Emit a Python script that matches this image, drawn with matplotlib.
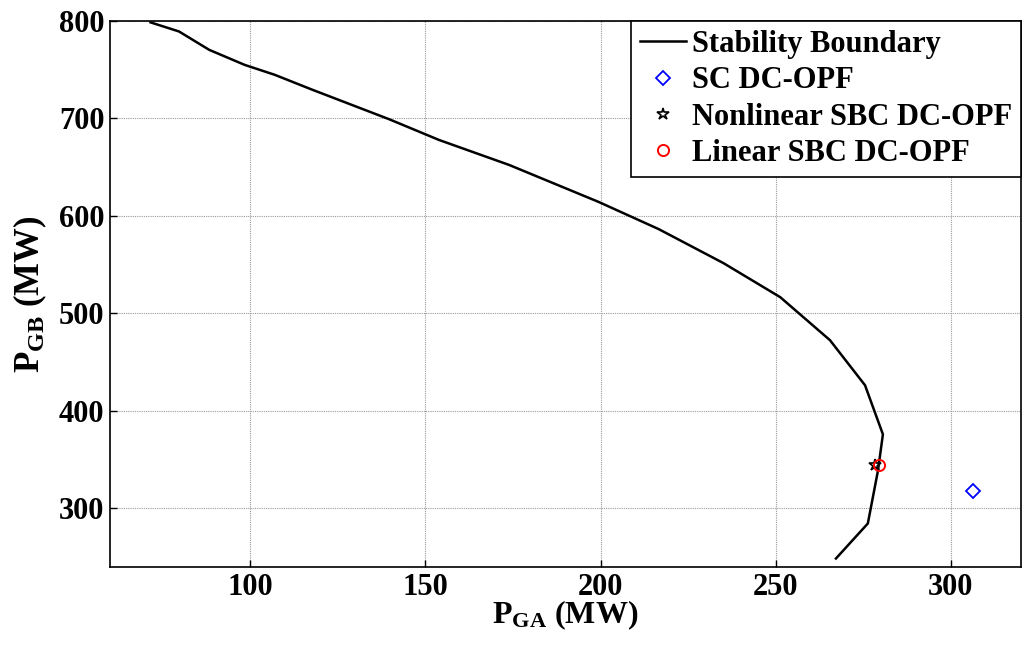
import matplotlib
matplotlib.use('Agg')
from matplotlib import pyplot as plt

plt.rcParams['font.family'] = ['Liberation Serif', 'DejaVu Serif']
plt.rcParams['font.weight'] = 'bold'
plt.rcParams['mathtext.fontset'] = 'custom'
plt.rcParams['mathtext.rm'] = 'Liberation Serif:bold'
plt.rcParams['mathtext.bf'] = 'Liberation Serif:bold'
plt.rcParams['mathtext.it'] = 'Liberation Serif:bold'

# stability boundary
boundary_pga = [71.6, 79.7, 88.3, 98.4, 107.0, 117.8, 139.7, 153.9, 173.9,
                199.5, 216.6, 235.1, 251.3, 265.5, 275.5, 280.6, 279.2,
                276.3, 267.2]
boundary_pgb = [798.3, 789.0, 770.2, 754.8, 744.6, 729.2, 699.0, 677.8, 652.2,
                614.2, 586.4, 551.5, 516.6, 472.5, 426.3, 376.0, 339.0,
                284.6, 248.7]

sc_pga, sc_pgb = [306.2], [317.8]
nl_pga, nl_pgb = [278.3], [345.0]
lin_pga, lin_pgb = [279.6], [345.0]

xticks = [100, 150, 200, 250, 300]
yticks = [300, 400, 500, 600, 700, 800]

fig = plt.figure(figsize=(10.23, 6.48), dpi=100)
ax = fig.add_axes([0.1075, 0.125, 0.8905, 0.8430])

ax.plot(boundary_pga, boundary_pgb, color='black', lw=1.8, label='Stability Boundary')
ax.plot(sc_pga, sc_pgb, ls='none', marker='D', ms=7, mfc='none', mec='blue',
        mew=1.3, label='SC DC-OPF')
ax.plot(nl_pga, nl_pgb, ls='none', marker='*', ms=9, mfc='none', mec='black',
        mew=1.2, label='Nonlinear SBC DC-OPF')
ax.plot(lin_pga, lin_pgb, ls='none', marker='o', ms=8, mfc='none', mec='red',
        mew=1.4, label='Linear SBC DC-OPF')

ax.set_xlim(60, 320)
ax.set_ylim(240, 800)
ax.set_xticks(xticks)
ax.set_yticks(yticks)
ax.tick_params(direction='in', length=5, width=1, labelsize=22, pad=4)
for lab in ax.get_xticklabels() + ax.get_yticklabels():
    lab.set_fontweight('bold')
ax.grid(True, color='#999999', lw=0.8, ls=(0, (1, 1)))
for s in ax.spines.values():
    s.set_linewidth(1.2)

ax.set_xlabel(r'$\mathrm{P_{GA}}$ (MW)', fontsize=23, fontweight='bold', labelpad=-2)
ax.set_ylabel(r'$\mathrm{P_{GB}}$ (MW)', fontsize=25, fontweight='bold', labelpad=7)

leg = ax.legend(loc='upper right', frameon=True, fancybox=False,
                borderaxespad=0, handlelength=1.5, handletextpad=0.2,
                labelspacing=0.24, borderpad=0.3, prop={'weight': 'bold', 'size': 22})
leg.get_frame().set_edgecolor('black')
leg.get_frame().set_linewidth(1.2)
leg.get_frame().set_alpha(1)

fig.savefig('out.png', dpi=100)
